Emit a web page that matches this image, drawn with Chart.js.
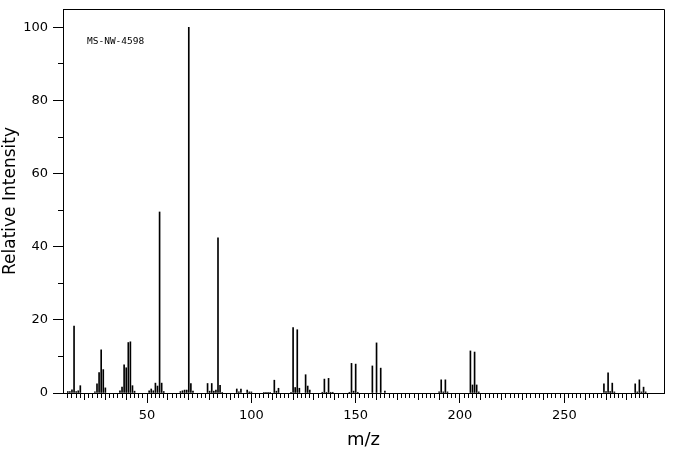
<!DOCTYPE html>
<html lang="en">
<head>
<meta charset="UTF-8">
<title>MS-NW-4598</title>
<script src="https://cdn.jsdelivr.net/npm/chart.js"></script>
<style>
  body { margin: 0; background: #fff; }
  .wrap { width: 676px; height: 455px; position: relative; }
</style>
</head>
<body>
<div class="wrap"><canvas id="spectrum"></canvas></div>
<script>
// peaks: m/z and relative intensity (%)
const masses = [
  12, 13, 14, 15, 16, 17, 18,
  25, 26, 27, 28, 29, 30,
  37, 38, 39, 40, 41, 42, 43, 44,
  51, 52, 53, 54, 55, 56, 57, 58,
  66, 67, 68, 69, 70, 71, 72,
  79, 80, 81, 82, 83, 84, 85, 86,
  93, 94, 95, 98, 99, 100,
  106, 107, 108, 109, 111, 112, 113,
  119, 120, 121, 122, 123, 126, 127, 128,
  134, 135, 136, 137, 138, 139,
  147, 148, 149, 150, 151, 158, 160, 162, 164,
  190, 191, 192, 193, 194,
  205, 206, 207, 208, 209,
  269, 270, 271, 272, 273, 274,
  284, 285, 286, 287, 288, 289
];
const intensities = [
  0.4, 0.4, 0.9, 18.3, 0.4, 0.6, 2.0,
  0.3, 2.5, 5.6, 11.8, 6.4, 1.4,
  0.6, 1.6, 7.7, 6.9, 13.8, 14.0, 2.0, 0.5,
  0.6, 1.1, 0.6, 2.7, 1.9, 49.5, 2.7, 0.4,
  0.4, 0.6, 0.8, 0.8, 100, 2.6, 0.5,
  2.6, 0.5, 2.6, 0.5, 0.8, 42.4, 2.1, 0.2,
  1.1, 0.3, 1.1, 0.8, 0.3, 0.3,
  0.2, 0.2, 0.2, 0.2, 3.5, 0.5, 1.3,
  0.2, 17.9, 1.5, 17.3, 1.3, 5.0, 1.9, 0.8,
  0.2, 3.8, 0.2, 4.0, 0.2, 0.2,
  0.2, 8.1, 0.5, 7.9, 0.2, 7.4, 13.7, 6.8, 0.5,
  0.3, 3.6, 0.3, 3.6, 0.3,
  11.5, 2.2, 11.2, 2.2, 0.3,
  2.5, 0.4, 5.5, 0.4, 2.7, 0.3,
  2.5, 0.3, 3.6, 0.3, 1.6, 0.3
];

const xMin = 9.7, xMax = 297.8, xFirstTick = 10, xLastTick = 290;
const yMin = 0, yMax = 105, yLastTick = 100;
const xLabelEvery = 50;
const yLabelEvery = 20;
const sampleName = 'MS-NW-4598';

Chart.defaults.font.family = '"DejaVu Sans", sans-serif';
Chart.defaults.color = '#000';

// keep only ticks on a given step, inside the drawn tick range
function keepEvery(step, first, last) {
  return scale => {
    scale.ticks = scale.ticks.filter(t => t.value % step === 0 && t.value >= first && t.value <= last);
  };
}

// top and right sides of the frame, plus the sample name
const framePlugin = {
  id: 'frame',
  afterDraw(chart) {
    const { ctx, chartArea: a } = chart;
    const l = Math.round(a.left) + 0.5, t = Math.round(a.top) + 0.5;
    const r = Math.round(a.right) + 0.5, b = Math.round(a.bottom) + 0.5;
    ctx.save();
    ctx.strokeStyle = '#000';
    ctx.lineWidth = 1;
    ctx.beginPath();
    ctx.moveTo(l, t);
    ctx.lineTo(r, t);
    ctx.lineTo(r, b);
    ctx.stroke();
    ctx.font = '9.5px "DejaVu Sans Mono", monospace';
    ctx.fillStyle = '#000';
    ctx.textBaseline = 'middle';
    ctx.fillText(sampleName, a.left + 24, a.top + 33);
    ctx.restore();
  }
};

function extraX(step, len) {
  return {
    type: 'linear', min: xMin, max: xMax, offset: false, weight: -1,
    afterBuildTicks: keepEvery(step, xFirstTick, xLastTick),
    afterFit: s => { s.height = 0; s.paddingLeft = 0; s.paddingRight = 0; },
    grid: { drawOnChartArea: false, tickLength: len, color: '#000', offset: false },
    border: { display: false },
    ticks: { stepSize: step, autoSkip: false, display: false }
  };
}

new Chart(document.getElementById('spectrum'), {
  type: 'bar',
  data: {
    datasets: [{
      data: masses.map((m, i) => ({ x: m, y: intensities[i] })),
      backgroundColor: '#000',
      borderWidth: 0,
      barThickness: 1
    }]
  },
  options: {
    responsive: true,
    maintainAspectRatio: false,
    animation: false,
    layout: { padding: { top: 9, right: 12, left: 0, bottom: 0 } },
    plugins: { legend: { display: false }, tooltip: { enabled: false } },
    scales: {
      x: {
        type: 'linear', min: xMin, max: xMax, offset: false, weight: 0,
        afterBuildTicks: keepEvery(2, xFirstTick, xLastTick),
        afterFit: s => { s.height = 62; s.paddingLeft = 0; s.paddingRight = 0; },
        grid: { drawOnChartArea: false, tickLength: 5, color: '#000', offset: false },
        border: { color: '#000' },
        ticks: {
          stepSize: 2, autoSkip: false, maxRotation: 0, padding: 10, font: { size: 13 },
          callback: v => (v % xLabelEvery === 0 ? String(v) : '')
        },
        title: { display: true, text: 'm/z', font: { size: 18 }, padding: { top: 0, bottom: 4 } }
      },
      x10: extraX(10, 7),
      x50: extraX(50, 10),
      y: {
        min: yMin, max: yMax, weight: 0,
        afterBuildTicks: keepEvery(10, yMin, yLastTick),
        afterFit: s => { s.width = 63; s.paddingTop = 0; s.paddingBottom = 0; },
        grid: { drawOnChartArea: false, tickLength: 5, color: '#000' },
        border: { color: '#000' },
        ticks: {
          stepSize: 10, padding: 10, font: { size: 13 },
          callback: v => (v % yLabelEvery === 0 ? String(v) : '')
        },
        title: { display: true, text: 'Relative Intensity', font: { size: 17 }, padding: { top: 0, bottom: 0 } }
      },
      y20: {
        min: yMin, max: yMax, weight: -1, position: 'left',
        afterBuildTicks: keepEvery(yLabelEvery, yMin, yLastTick),
        afterFit: s => { s.width = 0; s.paddingTop = 0; s.paddingBottom = 0; },
        grid: { drawOnChartArea: false, tickLength: 10, color: '#000' },
        border: { display: false },
        ticks: { stepSize: yLabelEvery, display: false }
      }
    }
  },
  plugins: [framePlugin]
});
</script>
</body>
</html>
